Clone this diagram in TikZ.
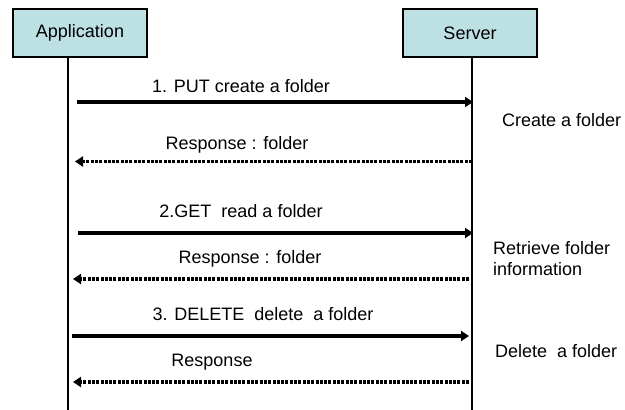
\documentclass[tikz,border=0pt]{standalone}
\usepackage{fontspec}
\setmainfont{Liberation Sans}
\usetikzlibrary{arrows.meta}
\definecolor{boxfill}{HTML}{BDE0E3}
\begin{document}
\begin{tikzpicture}[x=1pt,y=-1pt,
  actor/.style={draw=black,line width=2.2pt,fill=boxfill,minimum width=134pt,minimum height=48pt,inner sep=0pt,font=\fontsize{18}{20}\selectfont},
  lifeline/.style={line width=2pt},
  msg/.style={line width=3.2pt,-{Triangle[length=8pt,width=10pt]}},
  reply/.style={line width=3.2pt,dash pattern=on 3pt off 1.3pt,-{Triangle[length=8pt,width=10pt]}},
  lbl/.style={font=\fontsize{18}{20}\selectfont,inner sep=0pt},
  note/.style={font=\fontsize{18}{21}\selectfont,inner sep=0pt,anchor=west,align=left}]
\useasboundingbox (0,0) rectangle (625,410);
\node[actor] (app) at (80,33) {Application};
\node[actor] (srv) at (470,33) {Server};
\coordinate (appEnd) at (67.7,410);
\coordinate (srvEnd) at (472,410);
\draw[lifeline] (67.7,57) -- (appEnd);
\draw[lifeline] (472,57) -- (srvEnd);
% message endpoints
\coordinate (a1) at (77,102);  \coordinate (s1) at (473,102);
\coordinate (s2) at (472,161.5); \coordinate (a2) at (75,161.5);
\coordinate (a3) at (78,233);  \coordinate (s3) at (473,233);
\coordinate (s4) at (469,279); \coordinate (a4) at (73,279);
\coordinate (a5) at (72,336);  \coordinate (s5) at (469,336);
\coordinate (s6) at (469,382); \coordinate (a6) at (73,382);
\draw[msg] (a1) -- (s1);
\draw[reply] (s2) -- (a2);
\draw[msg] (a3) -- (s3);
\draw[reply] (s4) -- (a4);
\draw[msg] (a5) -- (s5);
\draw[reply] (s6) -- (a6);
\node[lbl] (l1) at (241,86) {1. PUT create a folder};
\node[lbl] (l2) at (237,145) {Response : folder};
\node[lbl] (l3) at (241,211) {2.GET\ \ read a folder};
\node[lbl] (l4) at (250,259) {Response : folder};
\node[lbl] (l5) at (263,314) {3. DELETE\ \ delete\ \ a folder};
\node[lbl] (l6) at (212,362) {Response};
\node[note] (n1) at (502,120) {Create a folder};
\node[note] (n2) at (493,259) {Retrieve folder\\information};
\node[note] (n3) at (495,351) {Delete\ \ a folder};
\end{tikzpicture}
\end{document}
